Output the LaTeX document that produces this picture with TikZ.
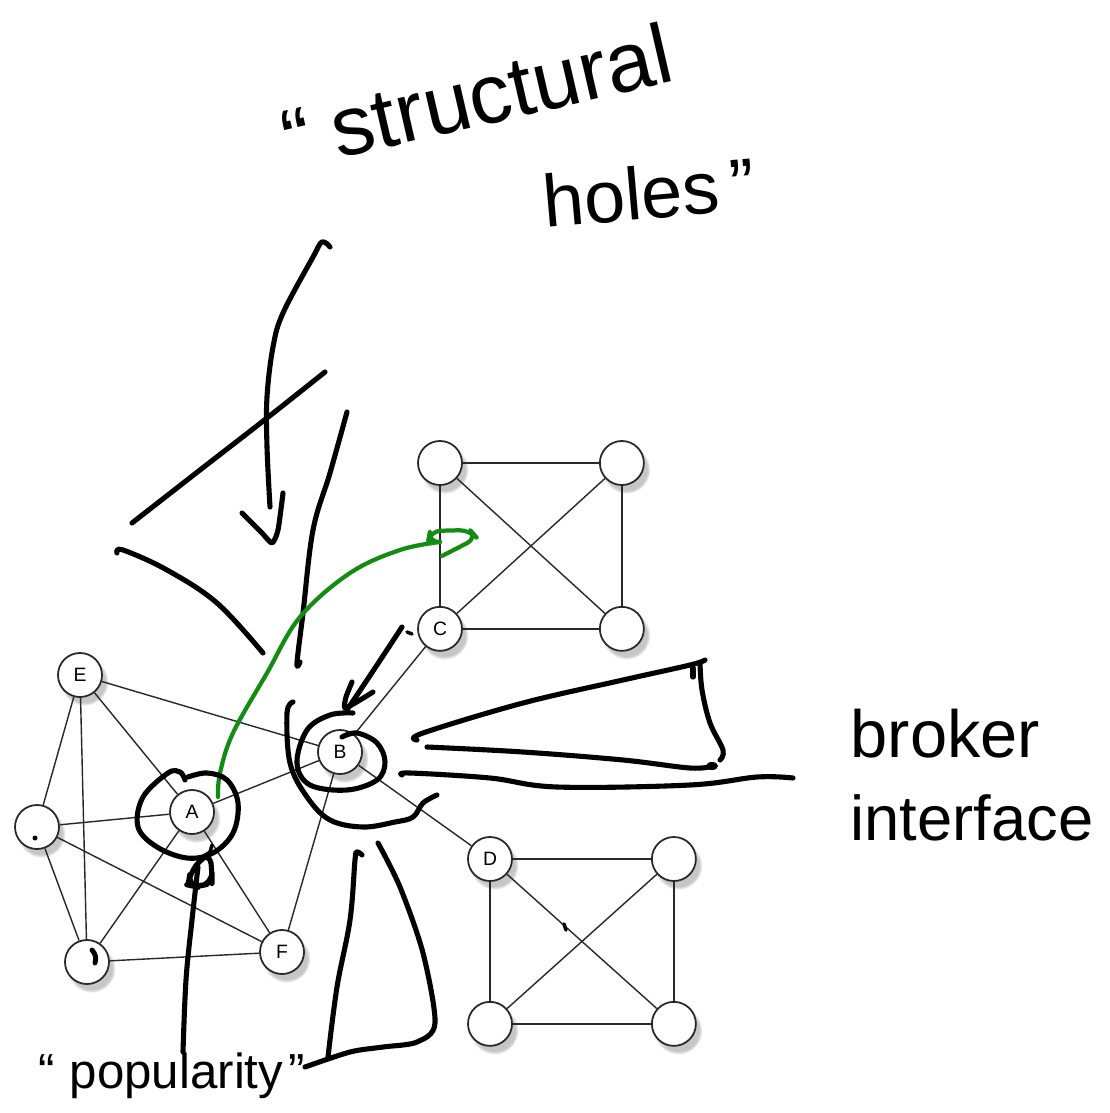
\documentclass[tikz,border=0pt]{standalone}
\usepackage{fontspec}
\setmainfont{Liberation Sans}
\usepackage{tikz}
\usetikzlibrary{
    positioning,
    shadows
}
\definecolor{EdgeGray}{RGB}{40,40,40}
\definecolor{PenBlack}{RGB}{0,0,0}
\definecolor{PenGreen}{RGB}{20,140,20}

\begin{document}
\begin{tikzpicture}[
    x=0.01cm, y=-0.01cm,
    vtx/.style={circle, draw=EdgeGray, line width=0.5pt, fill=white, minimum size=0.44cm, inner sep=0pt,
        font=\fontsize{5.5}{6}\selectfont,
        circular drop shadow={shadow xshift=0.4mm, shadow yshift=-0.6mm, opacity=0.45}},
    link/.style={draw=EdgeGray, line width=0.4pt},
    pen/.style={draw=PenBlack, line width=1.45pt, line cap=round, line join=round},
    gpen/.style={draw=PenGreen, line width=1.2pt, line cap=round, line join=round},
    note/.style={font=\fontsize{#1}{#1}\selectfont, inner sep=0pt, anchor=base west},
]
\useasboundingbox (0,0) rectangle (1110,1113);

% left cluster
\node[vtx] (e) at (80,675) {E};
\node[vtx] (g) at (37,827) {};
\node[vtx] (a) at (192,812) {A};
\node[vtx] (h) at (87,962) {};
\node[vtx] (f) at (282,952) {F};
\node[vtx] (b) at (340,752) {B};

% top square
\node[vtx] (t1) at (440,463) {};
\node[vtx, right=1.36cm of t1] (t2) {};
\node[vtx, below=1.2cm of t1] (c) {C};
\node[vtx, below=1.2cm of t2] (t4) {};

% bottom square
\node[vtx] (d) at (490,859) {D};
\node[vtx, right=1.38cm of d] (d2) {};
\node[vtx, below=1.19cm of d] (d3) {};
\node[vtx, below=1.19cm of d2] (d4) {};

% relations
\draw[link] (e) -- (g);
\draw[link] (e) -- (h);
\draw[link] (e) -- (a);
\draw[link] (e) -- (b);
\draw[link] (g) -- (a);
\draw[link] (g) -- (h);
\draw[link] (g) -- (f);
\draw[link] (a) -- (h);
\draw[link] (a) -- (f);
\draw[link] (a) -- (b);
\draw[link] (h) -- (f);
\draw[link] (f) -- (b);
\draw[link] (b) -- (c);
\draw[link] (b) -- (d);
\draw[link] (t1) -- (t2);
\draw[link] (t1) -- (c);
\draw[link] (t2) -- (t4);
\draw[link] (c) -- (t4);
\draw[link] (t1) -- (t4);
\draw[link] (t2) -- (c);
\draw[link] (d) -- (d2);
\draw[link] (d) -- (d3);
\draw[link] (d2) -- (d4);
\draw[link] (d3) -- (d4);
\draw[link] (d) -- (d4);
\draw[link] (d2) -- (d3);

% pen marks inside nodes
\fill[PenBlack] (35,838) circle (2.5);
\draw[pen, line width=1.4pt] (92,950) to[bend left=30] (95,963);
\draw[pen, line width=1pt] (564,924) -- (566,930);

% "structural holes" and its wedge
\node[note=24, rotate=13] (sh1) at (290,170) {“\hspace{0.25em}structural};
\node[note=21, rotate=5] (sh2) at (545,228) {holes\hspace{0.15em}”};
\draw[pen] plot[smooth, tension=0.6] coordinates {(330,247) (322,242) (313,257) (283,313) (273,347) (267,397) (267,447) (270,507)};
\draw[pen] plot[smooth, tension=0.4] coordinates {(242,513) (262,533) (272,543) (278,530) (283,493)};
\draw[pen] plot[smooth, tension=0.6] coordinates {(132,523) (200,470) (267,418) (325,372)};
\draw[pen] plot[smooth, tension=0.6] coordinates {(117,553) (123,550) (167,570) (217,603) (263,653)};
\draw[pen] plot[smooth, tension=0.6] coordinates {(347,412) (330,473) (313,530) (303,613) (297,663) (300,662)};

% green link A -> top square
\draw[gpen] plot[smooth, tension=0.6] coordinates {(218,797) (220,773) (233,733) (267,673) (300,617) (350,573) (400,550) (440,542)};
\draw[gpen, rounded corners=3pt] (440,542) -- (428,542) -- (430,531) -- (470,530) -- (477,538) -- (442,556);

% "popularity"
\draw[pen] plot[smooth, tension=0.6] coordinates {(185,780) (180,772) (168,773) (143,797) (138,827) (157,847) (187,858) (213,853) (233,833) (238,803) (227,780) (207,773) (188,777)};
\draw[pen] plot[smooth, tension=0.6] coordinates {(183,1052) (186,980) (192,920) (198,867)};
\draw[pen, rounded corners=3pt] (188,885) -- (190,873) -- (202,858) -- (210,853) -- (212,873) -- (212,883) -- (197,887) -- cycle;
\draw[pen, line width=1pt] (210,852) -- (212,845);
\node[note=14] (pop) at (38,1088) {“\hspace{0.3em}popularity\hspace{0.1em}”};

% "broker interface" around B
\draw[pen] plot[smooth, tension=0.6] coordinates {(342,737) (357,733) (377,743) (385,762) (377,780) (347,790) (310,785) (297,763) (307,730) (330,715) (353,713)};
\draw[pen] plot[smooth, tension=0.6] coordinates {(402,627) (375,668) (347,710)};
\draw[pen] plot[smooth, tension=0.4] coordinates {(352,682) (346,697) (345,708) (360,700) (373,692)};
\draw[pen, line width=1pt] (407,632) -- (412,634);
\draw[pen] plot[smooth, tension=0.6] coordinates {(293,702) (287,713) (290,763) (307,797) (330,820) (363,827) (395,822) (413,817) (423,803) (437,795)};
\draw[pen] plot[smooth, tension=0.6] coordinates {(417,740) (423,733) (523,703) (623,680) (690,665) (705,660)};
\draw[pen] (693,668) -- (693,677);
\draw[pen] plot[smooth, tension=0.6] coordinates {(700,663) (702,690) (710,723) (723,750) (720,760)};
\draw[pen] plot[smooth, tension=0.6] coordinates {(427,747) (523,752) (623,760) (690,768) (713,766)};
\fill[PenBlack] (712,766) ellipse (6 and 4);
\draw[pen] plot[smooth, tension=0.6] coordinates {(402,775) (410,773) (490,778) (557,787) (690,785) (757,777) (793,778)};
\node[note=19] (bk1) at (850,757) {broker};
\node[note=18] (bk2) at (850,840) {interface};

% wedge below B
\draw[pen] plot[smooth, tension=0.6] coordinates {(362,855) (357,852) (355,860) (350,920) (337,987) (328,1057)};
\draw[pen] plot[smooth, tension=0.5] coordinates {(378,843) (400,887) (423,953) (435,1023) (417,1042) (383,1047) (350,1052) (305,1067)};
\end{tikzpicture}
\end{document}
